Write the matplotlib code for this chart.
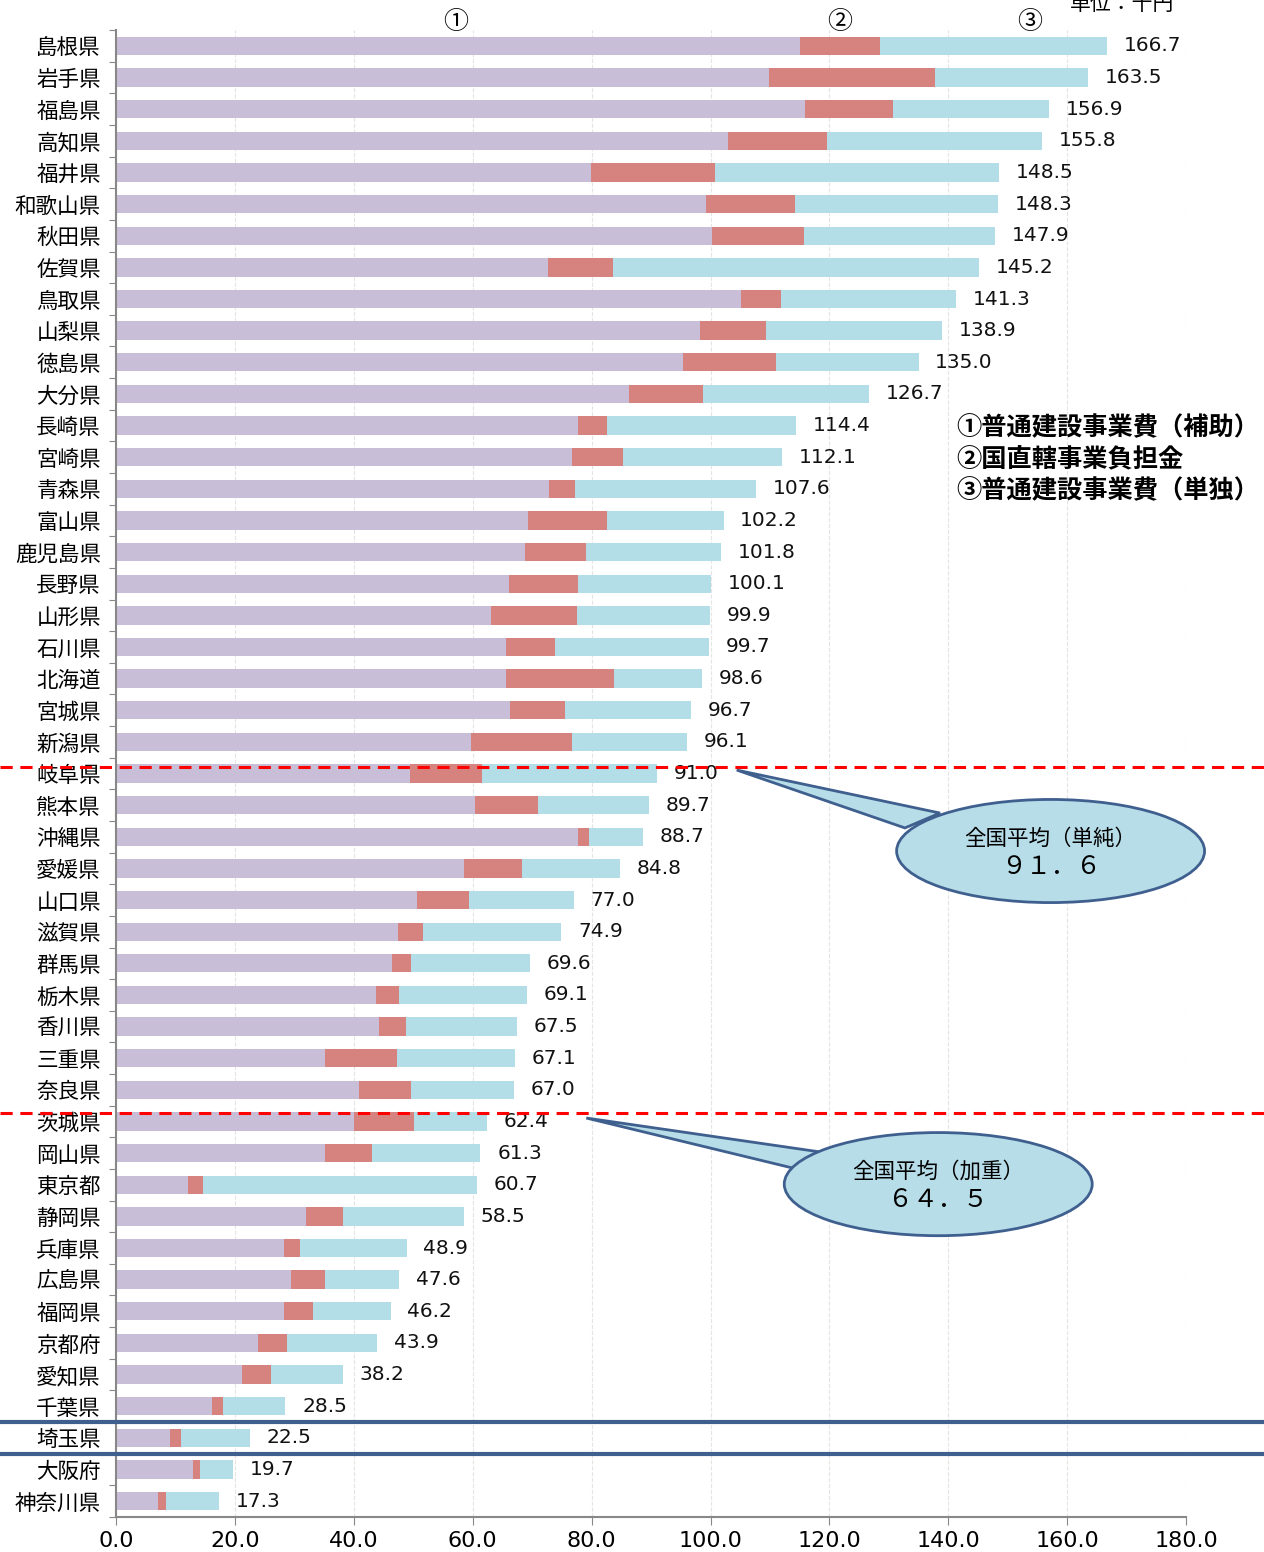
import matplotlib
matplotlib.use("Agg")
import matplotlib.pyplot as plt
import matplotlib.transforms as mtransforms
from matplotlib.patches import Ellipse, Polygon
from matplotlib.lines import Line2D
import numpy as np

plt.rcParams['font.family'] = ['Noto Sans CJK JP', 'DejaVu Sans']

prefs = ['島根県', '岩手県', '福島県', '高知県', '福井県', '和歌山県', '秋田県', '佐賀県',
         '鳥取県', '山梨県', '徳島県', '大分県', '長崎県', '宮崎県', '青森県', '富山県',
         '鹿児島県', '長野県', '山形県', '石川県', '北海道', '宮城県', '新潟県', '岐阜県',
         '熊本県', '沖縄県', '愛媛県', '山口県', '滋賀県', '群馬県', '栃木県', '香川県',
         '三重県', '奈良県', '茨城県', '岡山県', '東京都', '静岡県', '兵庫県', '広島県',
         '福岡県', '京都府', '愛知県', '千葉県', '埼玉県', '大阪府', '神奈川県']

# ① 普通建設事業費（補助）
hojo = [115.0, 109.8, 115.9, 102.9, 79.9, 99.2, 100.2, 72.7,
        105.1, 98.3, 95.4, 86.3, 77.7, 76.7, 72.8, 69.3,
        68.8, 66.1, 63.1, 65.6, 65.6, 66.3, 59.7, 49.4,
        60.4, 77.7, 58.5, 50.6, 47.4, 46.5, 43.8, 44.2,
        35.2, 40.8, 40.0, 35.2, 12.1, 32.0, 28.2, 29.5,
        28.2, 23.8, 21.2, 16.2, 9.1, 13.0, 7.1]
# ② 国直轄事業負担金
chokkatsu = [13.5, 28.0, 14.8, 16.7, 20.9, 15.0, 15.5, 10.9,
             6.7, 11.1, 15.6, 12.4, 4.9, 8.6, 4.4, 13.3,
             10.3, 11.6, 14.5, 8.3, 18.2, 9.2, 17.0, 12.2,
             10.6, 1.9, 9.8, 8.8, 4.2, 3.1, 3.8, 4.5,
             12.0, 8.8, 10.1, 7.8, 2.6, 6.1, 2.7, 5.6,
             5.0, 5.0, 4.9, 1.8, 1.9, 1.2, 1.3]
# 合計
total = [166.7, 163.5, 156.9, 155.8, 148.5, 148.3, 147.9, 145.2,
         141.3, 138.9, 135.0, 126.7, 114.4, 112.1, 107.6, 102.2,
         101.8, 100.1, 99.9, 99.7, 98.6, 96.7, 96.1, 91.0,
         89.7, 88.7, 84.8, 77.0, 74.9, 69.6, 69.1, 67.5,
         67.1, 67.0, 62.4, 61.3, 60.7, 58.5, 48.9, 47.6,
         46.2, 43.9, 38.2, 28.5, 22.5, 19.7, 17.3]
# ③ 普通建設事業費（単独）= 合計 - ① - ②
tandoku = [round(t - a - b, 1) for t, a, b in zip(total, hojo, chokkatsu)]

xticks = [0, 20, 40, 60, 80, 100, 120, 140, 160, 180]

c1, c2, c3 = '#C8BED8', '#D6837F', '#B3DDE7'

fig = plt.figure(figsize=(12.64, 15.52), dpi=100)
ax = fig.add_axes([0.0918, 0.0226, 0.8466, 0.958])

y = np.arange(len(prefs))
h = 0.58
ax.barh(y, hojo, height=h, color=c1, zorder=2)
ax.barh(y, chokkatsu, left=hojo, height=h, color=c2, zorder=2)
ax.barh(y, tandoku, left=np.add(hojo, chokkatsu), height=h, color=c3, zorder=2)

for yi, t in zip(y, total):
    ax.annotate(f'{t:.1f}', (t, yi), xytext=(12, 0), textcoords='offset points',
                va='center', ha='left', fontsize=14.5, family='DejaVu Sans',
                color='#111111')

ax.set_xlim(0, 180)
ax.set_ylim(len(prefs) - 0.5, -0.5)
ax.set_xticks(xticks)
ax.set_xticklabels([f'{v:.1f}' for v in xticks], fontsize=16, family='DejaVu Sans')
ax.set_yticks(np.arange(len(prefs) + 1) - 0.5)
ax.set_yticklabels([])
ax.set_yticks(y, minor=True)
ax.set_yticklabels(prefs, minor=True, fontsize=15.5)
ax.tick_params(axis='y', which='minor', length=0, pad=11)
ax.tick_params(axis='y', which='major', length=5, color='#888888', direction='out')
ax.tick_params(axis='x', length=6, color='#888888', direction='out', pad=4)
for s in ['top', 'right']:
    ax.spines[s].set_visible(False)
for s in ['left', 'bottom']:
    ax.spines[s].set_color('#888888')
    ax.spines[s].set_linewidth(1.5)
ax.grid(axis='x', color='#e4e4e4', linewidth=0.8, linestyle='--', zorder=0)
ax.set_axisbelow(True)

# horizontal separators across full width
trans = mtransforms.blended_transform_factory(fig.transFigure, ax.transData)
for yy in [22.78, 33.74]:
    fig.add_artist(Line2D([0, 1], [yy, yy], transform=trans, color='#FF0000',
                          linestyle=(0, (4, 2.5)), linewidth=2.2, zorder=5))
for yy in [43.5, 44.5]:
    fig.add_artist(Line2D([0, 1], [yy, yy], transform=trans, color='#3F5F8F',
                          linewidth=3, zorder=5))

# callouts
def callout(cx, cy, w, hh, tip, b1, b2, line1, line2):
    poly = Polygon([tip, b1, b2], closed=True, facecolor='#B7DDE8',
                   edgecolor='#3F5F8F', linewidth=2, zorder=6, clip_on=False)
    ax.add_patch(poly)
    ell = Ellipse((cx, cy), w, hh, facecolor='#B7DDE8', edgecolor='#3F5F8F',
                  linewidth=2, zorder=7, clip_on=False)
    ax.add_patch(ell)
    ax.text(cx, cy - 0.38, line1, ha='center', va='center', fontsize=15.5, zorder=8)
    ax.text(cx, cy + 0.5, line2, ha='center', va='center', fontsize=18, zorder=8)

callout(157.2, 25.45, 51.8, 3.26, (104.4, 22.89), (138.6, 24.25), (132.7, 24.72),
        '全国平均（単純）', '９１．６')
callout(138.3, 35.98, 51.8, 3.26, (79.1, 33.89), (118.7, 34.97), (113.8, 35.47),
        '全国平均（加重）', '６４．５')

# legend text
leg = ['①普通建設事業費（補助）', '②国直轄事業負担金', '③普通建設事業費（単独）']
for i, s in enumerate(leg):
    fig.text(956 / 1264, 1 - (428 + 31.5 * i) / 1552, s, fontsize=18.2,
             fontweight='bold', va='center', ha='left')

# circled numbers above bars
for x, s in zip([456, 840, 1030], ['①', '②', '③']):
    fig.text(x / 1264, 1 - 22 / 1552, s, fontsize=18, ha='center', va='center')

fig.text(1122 / 1264, 1 - 4 / 1552, '単位：千円', fontsize=15, ha='center', va='center')

fig.savefig('out.png', dpi=100)
